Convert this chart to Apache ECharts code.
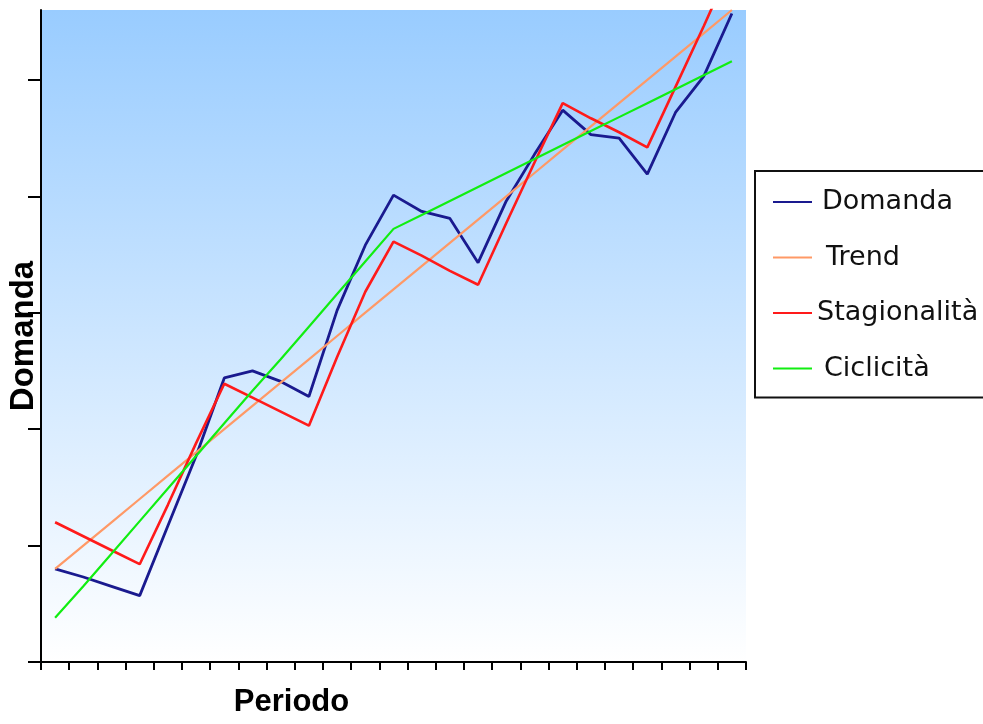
<!DOCTYPE html>
<html>
<head>
<meta charset="utf-8">
<title>Domanda</title>
<script src="https://cdn.jsdelivr.net/npm/echarts@6/dist/echarts.min.js"></script>
<style>
  html, body { margin: 0; padding: 0; background: #ffffff; }
  #chart { width: 983px; height: 724px; }
</style>
</head>
<body>
<div id="chart"></div>
<script>
// Periods 1..25 (no labels are shown on the axis)
const periods = ['1','2','3','4','5','6','7','8','9','10','11','12','13','14','15','16','17','18','19','20','21','22','23','24','25'];

// Series values
const domanda = [80, 73, 65, 57, 117, 177, 244, 250, 241, 228, 302, 358, 401, 387, 381, 343, 396, 436, 474, 453, 450, 419, 472, 503, 557];
const trend = [80, 100, 120, 140, 160, 180, 200, 220, 240, 260, 280, 300, 320, 340, 360, 380, 400, 420, 440, 460, 480, 500, 520, 540, 560];
const stagionalita = [120, 108, 96, 84, 135, 188, 239, 227, 215, 203, 262, 318, 361, 349, 336, 324, 377, 429, 480, 467, 455, 442, 494, 546, 600];
const ciclicita = [38, 65, 93, 121, 149, 177, 205, 233, 260, 288, 316, 344, 372, 384, 396, 408, 420, 432, 444, 456, 468, 480, 492, 504, 516];

// Value axis ticks
const yTicks = [0, 100, 200, 300, 400, 500];

const chart = echarts.init(document.getElementById('chart'), null, { renderer: 'canvas' });

const lineSeries = (name, data, color, width) => ({
  name: name,
  type: 'line',
  data: data,
  symbol: 'none',
  smooth: false,
  clip: true,
  lineStyle: { color: color, width: width },
  itemStyle: { color: color },
  emphasis: { disabled: true }
});

chart.setOption({
  animation: false,
  backgroundColor: '#ffffff',
  grid: {
    left: 41,
    top: 10,
    width: 705,
    height: 652,
    containLabel: false,
    outerBoundsMode: 'none',
    show: true,
    borderWidth: 0,
    backgroundColor: new echarts.graphic.LinearGradient(0, 0, 0, 1, [
      { offset: 0, color: '#99CCFF' },
      { offset: 1, color: '#FFFFFF' }
    ])
  },
  legend: {
    orient: 'vertical',
    left: 755,
    top: 171,
    padding: [16, 60, 14, 18],
    itemGap: 25.5,
    itemWidth: 39,
    itemHeight: 2,
    icon: 'rect',
    borderColor: '#111111',
    borderWidth: 2,
    borderRadius: 0,
    backgroundColor: '#ffffff',
    selectedMode: false,
    textStyle: {
      fontFamily: 'DejaVu Sans',
      fontSize: 27,
      color: '#111111',
      lineHeight: 30
    },
    data: [
      { name: 'Domanda', textStyle: { padding: [0, 0, 0, 5] } },
      { name: 'Trend', textStyle: { padding: [0, 0, 0, 9] } },
      { name: 'Stagionalità', textStyle: { padding: [0, 0, 0, 0] } },
      { name: 'Ciclicità', textStyle: { padding: [0, 0, 0, 7] } }
    ]
  },
  xAxis: {
    type: 'category',
    data: periods,
    boundaryGap: true,
    name: 'Periodo',
    nameLocation: 'middle',
    nameGap: 25,
    nameTextStyle: {
      fontFamily: 'Liberation Sans',
      fontWeight: 'bold',
      fontSize: 31,
      color: '#000000',
      padding: [0, 204, 0, 0]
    },
    axisLine: { show: true, lineStyle: { color: '#000000', width: 2 } },
    axisTick: { show: true, inside: false, length: 8, lineStyle: { color: '#000000', width: 2 } },
    axisLabel: { show: false },
    splitLine: { show: false }
  },
  yAxis: {
    type: 'value',
    min: 0,
    max: 560,
    interval: 100,
    name: 'Domanda',
    nameLocation: 'middle',
    nameRotate: 90,
    nameGap: 1,
    nameTextStyle: {
      fontFamily: 'Liberation Sans',
      fontWeight: 'bold',
      fontSize: 33,
      color: '#000000'
    },
    axisLine: { show: true, lineStyle: { color: '#000000', width: 2 } },
    axisTick: {
      show: true,
      inside: false,
      length: 13,
      customValues: yTicks,
      lineStyle: { color: '#000000', width: 2 }
    },
    axisLabel: { show: false },
    splitLine: { show: false }
  },
  series: [
    lineSeries('Domanda', domanda, '#1A1A8F', 2.8),
    lineSeries('Trend', trend, '#FF9966', 2.2),
    lineSeries('Stagionalità', stagionalita, '#FF1A1A', 2.6),
    lineSeries('Ciclicità', ciclicita, '#11EE11', 2.2)
  ]
});
</script>
</body>
</html>
